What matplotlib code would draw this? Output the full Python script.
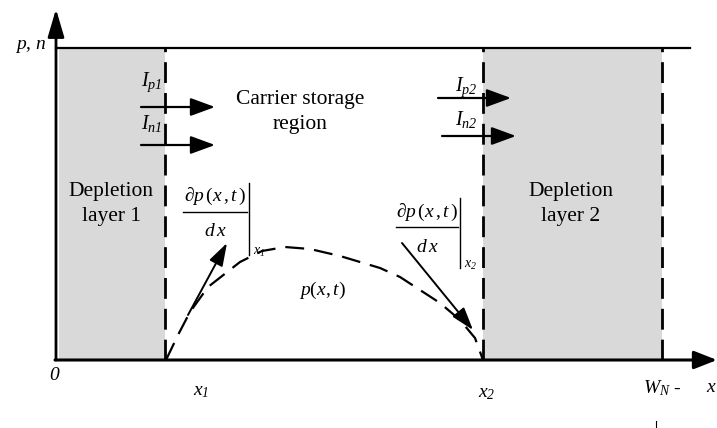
import matplotlib
matplotlib.use("Agg")
import matplotlib.pyplot as plt
import numpy as np

plt.rcParams["font.family"] = ["Liberation Serif", "DejaVu Serif"]
plt.rcParams["mathtext.fontset"] = "custom"
plt.rcParams["mathtext.rm"] = "Liberation Serif"
plt.rcParams["mathtext.it"] = "Liberation Serif:italic"
# kursive Ziffern über \mathsf
plt.rcParams["mathtext.sf"] = "Liberation Serif:italic"

# Positionen entlang der x-Achse (Diagramm-Einheiten, Ursprung = 0)
x_dep1_start = 3
x1 = 109
x2 = 427
w_n = 606
x_top_end = 634
p_top = 312

# Ladungsträgerverteilung p(x,t) (gestrichelte Kurve)
curve_x = [110, 122, 134, 152, 184, 206, 229, 254, 284, 324, 344, 364, 384, 404, 419, 427]
curve_y = [0, 25, 48, 73, 98, 109, 113, 111, 104, 92, 83, 70, 57, 40, 22, 0]

# Strompfeile: (Startx, Endx, y)
current_arrows = {
    "Ip1": (85, 159, 253),
    "In1": (85, 159, 215),
    "Ip2": (382, 455, 262),
    "In2": (386, 460, 224),
}
current_labels = {
    "Ip1": (96, 278, r"$I_{p\mathsf{1}}$"),
    "In1": (96, 236, r"$I_{n\mathsf{1}}$"),
    "Ip2": (410, 273, r"$I_{p\mathsf{2}}$"),
    "In2": (410, 241, r"$I_{n\mathsf{2}}$"),
}

# Ableitungspfeile (Start, Spitze)
deriv_left = ((132, 45), (171, 117))
deriv_right = ((346, 117), (417, 30))

fig = plt.figure(figsize=(7.17, 4.28), dpi=100)
ax = fig.add_axes([0, 0, 1, 1])
ax.set_xlim(-56, 661)
ax.set_ylim(-68, 360)
ax.axis("off")

grey = "#d9d9d9"
ax.fill_between([x_dep1_start, x1], 0, p_top, color=grey, lw=0, zorder=0)
ax.fill_between([x2, w_n], 0, p_top, color=grey, lw=0, zorder=0)

# Achsen
ax.annotate("", xy=(0, 351), xytext=(0, 0),
            arrowprops=dict(arrowstyle="-|>,head_length=1.7,head_width=0.5",
                            lw=2, color="k", shrinkA=0, shrinkB=0))
ax.annotate("", xy=(661, 0), xytext=(-1, 0),
            arrowprops=dict(arrowstyle="-|>,head_length=1.4,head_width=0.55",
                            lw=2.2, color="k", shrinkA=0, shrinkB=0))
ax.plot([0, x_top_end], [p_top, p_top], color="k", lw=1.6)

# gestrichelte Grenzen
for xv in [x1, x2, w_n]:
    ax.plot([xv, xv], [0, p_top], color="k", lw=2, linestyle=(0, (7.5, 3.6)))

ax.plot(curve_x, curve_y, color="k", lw=1.6, linestyle=(0, (8.5, 4.5)))

arrow_kw = dict(arrowstyle="-|>,head_length=1.5,head_width=0.55",
                lw=1.6, color="k", shrinkA=0, shrinkB=0)
for key, (xs, xe, y) in current_arrows.items():
    ax.annotate("", xy=(xe, y), xytext=(xs, y), arrowprops=arrow_kw)
for key, (xl, yl, txt) in current_labels.items():
    ax.text(xl, yl, txt, fontsize=14.5, ha="center", va="center")

d_kw = dict(arrowstyle="-|>,head_length=1.4,head_width=0.45",
            lw=1.4, color="k", shrinkA=0, shrinkB=0)
ax.annotate("", xy=deriv_left[1], xytext=deriv_left[0], arrowprops=d_kw)
ax.annotate("", xy=deriv_right[1], xytext=deriv_right[0], arrowprops=d_kw)

# Texte
ax.text(244, 248, "Carrier storage\nregion", fontsize=15.5, ha="center",
        va="center", linespacing=1.45)
ax.text(55, 156, "Depletion\nlayer 1", fontsize=15.5, ha="center",
        va="center", linespacing=1.4)
ax.text(515, 156, "Depletion\nlayer 2", fontsize=15.5, ha="center",
        va="center", linespacing=1.4)


def deriv_label(xc, y_num, y_bar, y_den, half, xbar, ybar0, ybar1, sub):
    ax.text(xc, y_num, r"$\partial p\,(x\,,t\,)$", fontsize=14, ha="center", va="center")
    ax.plot([xc - half, xc + half], [y_bar, y_bar], color="k", lw=1)
    ax.text(xc, y_den, r"$d\,x$", fontsize=14, ha="center", va="center")
    ax.plot([xbar, xbar], [ybar0, ybar1], color="k", lw=1)
    ax.text(xbar + 4, ybar1 + 3, sub, fontsize=10, ha="left", va="center")


deriv_label(159, 164, 148, 128, 32, 193, 177, 105, r"$x_{\mathsf{1}}$")
deriv_label(371, 148, 133, 113, 31, 404, 162, 92, r"$x_{\mathsf{2}}$")

ax.text(266, 70, r"$p(x,t)$", fontsize=14, ha="center", va="center")
ax.text(-9, 314, r"$p,\,n$", fontsize=14, ha="right", va="center")
ax.text(-1, -15, r"$\mathsf{0}$", fontsize=14, ha="center", va="center")
ax.text(145, -32, r"$x_{\mathsf{1}}$", fontsize=14, ha="center", va="center")
ax.text(431, -33, r"$x_{\mathsf{2}}$", fontsize=14, ha="center", va="center")
ax.text(587, -28, r"$W_N$ -", fontsize=14, ha="left", va="center")
ax.text(650, -28, r"$x$", fontsize=14, ha="left", va="center")
ax.plot([600, 600], [-61, -68], color="k", lw=0.8)

fig.savefig("out.png", dpi=100)
